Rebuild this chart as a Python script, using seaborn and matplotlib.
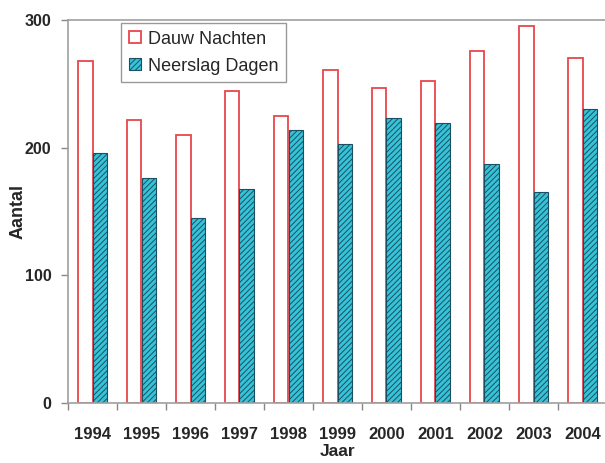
import matplotlib
matplotlib.use("Agg")
import matplotlib.pyplot as plt
import seaborn as sns
import pandas as pd
import numpy as np
from matplotlib.patches import Patch

years = ["1994", "1995", "1996", "1997", "1998", "1999", "2000", "2001", "2002", "2003", "2004"]
dauw_nachten = [268, 222, 210, 244, 225, 261, 247, 252, 276, 295, 270]
neerslag_dagen = [196, 176, 145, 168, 214, 203, 223, 219, 187, 165, 230]
series = ["Dauw Nachten", "Neerslag Dagen"]

df = pd.DataFrame({
    "Jaar": years * 2,
    "Aantal": dauw_nachten + neerslag_dagen,
    "Reeks": [series[0]] * len(years) + [series[1]] * len(years),
})

sns.set_style("white")
plt.rcParams["font.family"] = ["Liberation Sans", "DejaVu Sans"]
plt.rcParams["hatch.linewidth"] = 0.7
plt.rcParams["hatch.color"] = "#1d4f63"

fig = plt.figure(figsize=(6.05, 4.63), dpi=100)
ax = fig.add_axes([68 / 605, 1 - 403 / 463, 539 / 605, (403 - 20) / 463])

red = "#e8474c"
cyan = "#35c3d8"
sns.barplot(data=df, x="Jaar", y="Aantal", hue="Reeks", hue_order=series,
            palette=["white", cyan], width=0.6, ax=ax, legend=False,
            saturation=1)

n = len(years)
for i, p in enumerate(ax.patches[:2 * n]):
    if i < n:
        p.set_facecolor("white")
        p.set_edgecolor(red)
        p.set_linewidth(1.3)
    else:
        p.set_facecolor(cyan)
        p.set_edgecolor("#1d4f63")
        p.set_hatch("//////")
        p.set_linewidth(0.8)

ax.set_xlim(-0.5, n - 0.5)
ax.set_ylim(0, 300)
ax.set_yticks([0, 100, 200, 300])
ax.set_xticks(np.arange(-0.5, n, 1.0), minor=True)
ax.tick_params(axis="x", which="major", length=0, pad=17, labelsize=12)
ax.tick_params(axis="x", which="minor", length=5, width=1, color="#888888", direction="out", bottom=True)
ax.tick_params(axis="y", which="major", length=5, width=1, color="#888888", direction="out", left=True,
               pad=7, labelsize=11.5)
for lab in ax.get_xticklabels() + ax.get_yticklabels():
    lab.set_fontweight("bold")

for s in ["left", "bottom", "top"]:
    ax.spines[s].set_color("#a0a0a0")
    ax.spines[s].set_linewidth(1.2)
ax.spines["right"].set_visible(False)

ax.set_xlabel("Jaar", fontsize=12.5, fontweight="bold")
ax.set_ylabel("Aantal", fontsize=13, fontweight="bold")
ax.xaxis.set_label_coords((338 - 68) / 539, (403 - 452) / 383)
ax.yaxis.set_label_coords((18 - 68) / 539, 0.5)
ax.xaxis.label.set_va("center")
ax.yaxis.label.set_va("center")

handles = [Patch(facecolor="white", edgecolor=red, linewidth=1.3, label=series[0]),
           Patch(facecolor=cyan, edgecolor="#1d4f63", hatch="//////", linewidth=0.8, label=series[1])]
leg = ax.legend(handles=handles, loc="upper left", bbox_to_anchor=((121 - 68) / 539, (403 - 23) / 383),
                frameon=True, fancybox=False, fontsize=13, handlelength=0.68, handleheight=0.68,
                handletextpad=0.4, borderpad=0.42, labelspacing=0.55, borderaxespad=0)
leg.get_frame().set_edgecolor("#808080")
leg.get_frame().set_linewidth(1.0)

fig.savefig("out.png", dpi=100)
